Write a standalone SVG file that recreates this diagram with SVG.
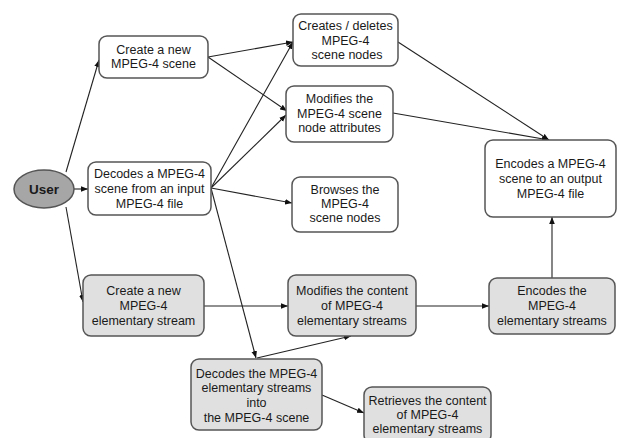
<svg xmlns="http://www.w3.org/2000/svg" width="617" height="438" viewBox="0 0 617 438">
<style>
.n rect{stroke:#555;stroke-width:1.5;rx:8;ry:8}
.w rect{fill:#fff}
.g rect{fill:#e0e0e0}
text{font-family:"Liberation Sans",Arial,sans-serif;font-size:12.5px;fill:#1a1a1a;text-anchor:middle}
.e line{stroke:#222;stroke-width:1.1;marker-end:url(#ah)}
</style>
<defs>
<marker id="ah" viewBox="0 0 10 10" refX="10" refY="5" markerWidth="7" markerHeight="7" markerUnits="userSpaceOnUse" orient="auto">
<path d="M0,1 L10,5 L0,9 z" fill="#111"/>
</marker>
</defs>
<rect width="617" height="438" fill="#fff"/>
<g class="e" id="connectors">
<line x1="66" y1="172" x2="99" y2="60"/>
<line x1="74" y1="189" x2="88" y2="189"/>
<line x1="66" y1="207" x2="83" y2="302"/>
<line x1="208" y1="57" x2="293" y2="42"/>
<line x1="208" y1="57" x2="287" y2="111"/>
<line x1="211" y1="188" x2="293" y2="42"/>
<line x1="211" y1="188" x2="286" y2="115"/>
<line x1="211" y1="188" x2="292" y2="203"/>
<line x1="211" y1="188" x2="256" y2="358"/>
<line x1="204" y1="306" x2="288" y2="306"/>
<line x1="257" y1="358" x2="351" y2="336"/>
<line x1="416" y1="306" x2="489" y2="306"/>
<line x1="552" y1="278" x2="552" y2="217"/>
<line x1="398" y1="42" x2="549" y2="140"/>
<line x1="393" y1="113" x2="549" y2="140"/>
<line x1="322" y1="395" x2="364" y2="413"/>
</g>
<g id="user">
<ellipse cx="44" cy="189" rx="30" ry="19" fill="#a6a6a6" stroke="#555" stroke-width="1.5"/>
<text x="44" y="194" style="font-weight:bold;font-size:13.5px">User</text>
</g>
<g id="create-scene" class="n w">
<rect x="99" y="36" width="109" height="42"/>
<text x="153.5" y="53.5">Create a new</text>
<text x="153.5" y="67.5">MPEG-4 scene</text>
</g>
<g id="decode-scene" class="n w">
<rect x="88" y="162" width="123" height="53"/>
<text x="149.5" y="177.5">Decodes a MPEG-4</text>
<text x="149.5" y="193">scene from an input</text>
<text x="149.5" y="207.5">MPEG-4 file</text>
</g>
<g id="create-delete-nodes" class="n w">
<rect x="293" y="14" width="105" height="52"/>
<text x="345.5" y="29.5">Creates / deletes</text>
<text x="345.5" y="44.5">MPEG-4</text>
<text x="347" y="58.5">scene nodes</text>
</g>
<g id="modify-attributes" class="n w">
<rect x="286" y="86" width="107" height="56"/>
<text x="339.5" y="103">Modifies the</text>
<text x="339.5" y="117.5">MPEG-4 scene</text>
<text x="339.5" y="132">node attributes</text>
</g>
<g id="browse-nodes" class="n w">
<rect x="292" y="177" width="106" height="55"/>
<text x="345" y="194">Browses the</text>
<text x="345" y="208">MPEG-4</text>
<text x="345" y="222">scene nodes</text>
</g>
<g id="encode-scene" class="n w">
<rect x="485" y="140" width="131" height="77"/>
<text x="550.5" y="168">Encodes a MPEG-4</text>
<text x="550.5" y="183">scene to an output</text>
<text x="550.5" y="198">MPEG-4 file</text>
</g>
<g id="create-stream" class="n g">
<rect x="83" y="275" width="121" height="61"/>
<text x="143.5" y="295">Create a new</text>
<text x="143.5" y="310">MPEG-4</text>
<text x="143.5" y="325">elementary stream</text>
</g>
<g id="modify-streams" class="n g">
<rect x="288" y="275" width="128" height="61"/>
<text x="352" y="295">Modifies the content</text>
<text x="352" y="310">of MPEG-4</text>
<text x="352" y="325">elementary streams</text>
</g>
<g id="encode-streams" class="n g">
<rect x="489" y="278" width="126" height="56"/>
<text x="552" y="295">Encodes the</text>
<text x="552" y="310">MPEG-4</text>
<text x="552" y="325">elementary streams</text>
</g>
<g id="decode-streams" class="n g">
<rect x="191" y="359" width="131" height="71"/>
<text x="256.5" y="377.5">Decodes the MPEG-4</text>
<text x="256.5" y="392">elementary streams</text>
<text x="256.5" y="406.5">into</text>
<text x="256.5" y="421.5">the MPEG-4 scene</text>
</g>
<g id="retrieve-streams" class="n g">
<rect x="364" y="387" width="127" height="56"/>
<text x="427.5" y="404.5">Retrieves the content</text>
<text x="427.5" y="418.5">of MPEG-4</text>
<text x="427.5" y="433">elementary streams</text>
</g>
</svg>
